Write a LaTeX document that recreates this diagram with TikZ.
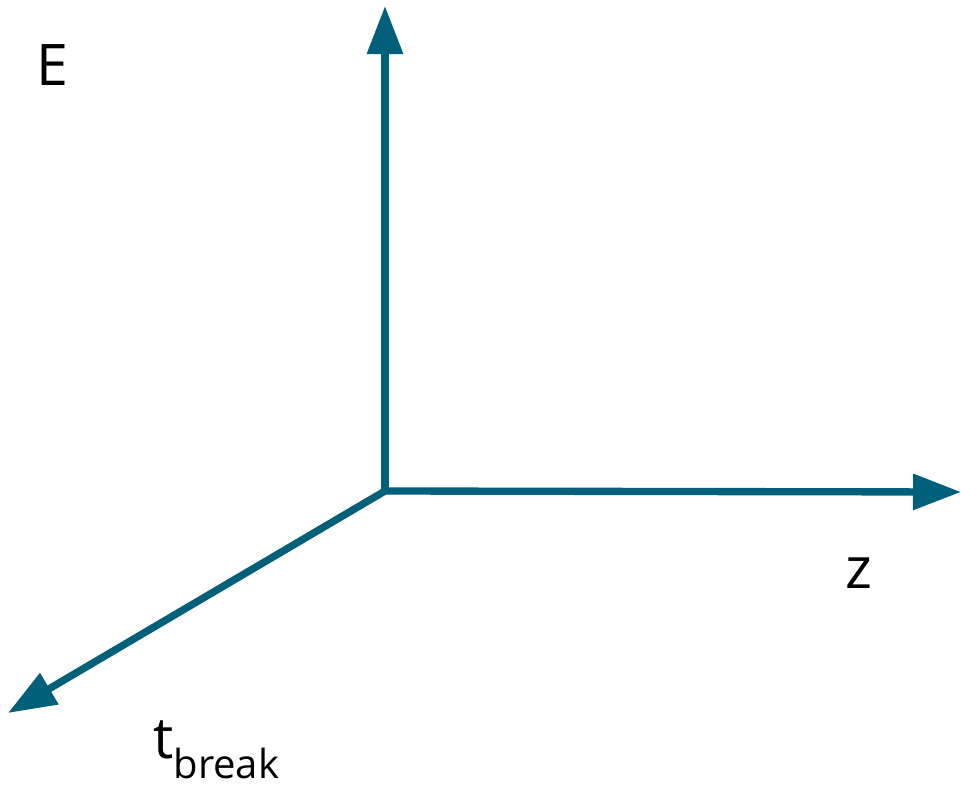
\documentclass[tikz,border=0pt]{standalone}
\usepackage{fontspec}
\setmainfont{Open Sans}
\usetikzlibrary{arrows.meta}
\definecolor{axis}{RGB}{0,96,122}
\begin{document}
\begin{tikzpicture}[x=0.75pt,y=-0.75pt,
  axisline/.style={draw=axis,line width=5.5pt,-{Triangle[length=36pt,width=26pt]}},
  lbl/.style={inner sep=0pt,anchor=base west,font=\fontsize{43}{43}\selectfont}]
\useasboundingbox (0,0) rectangle (961,785);
\coordinate (O) at (385,491);
\coordinate (Etip) at (385,6);
\coordinate (Ztip) at (961,492);
\coordinate (Ttip) at (8,713);
\draw[axisline] (O) -- (Etip);
\draw[axisline] (O) -- (Ztip);
\draw[axisline] (O) -- (Ttip);
\node[lbl] (E) at (36,85) {E};
\node[lbl] (Z) at (845,588) {z};
\node[lbl] (T) at (153,758) {t\raisebox{-15.5pt}{\fontsize{30}{30}\selectfont break}};
\end{tikzpicture}
\end{document}
